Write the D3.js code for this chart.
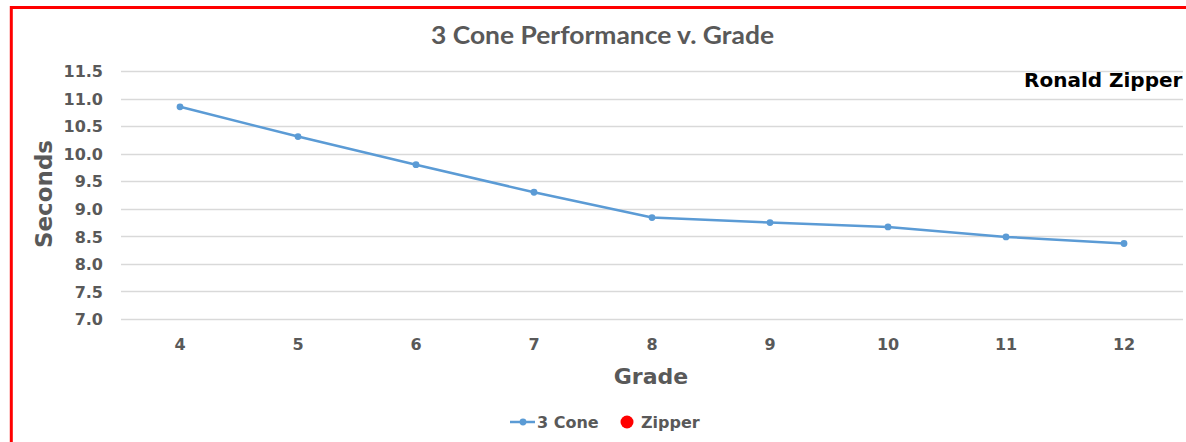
<!DOCTYPE html>
<html>
<head>
<meta charset="utf-8">
<script src="https://cdn.jsdelivr.net/npm/d3@7"></script>
<style>
  html, body { margin: 0; padding: 0; background: #ffffff; overflow: hidden; }
  svg { display: block; }
</style>
</head>
<body>
<svg id="chart" width="1186" height="442"></svg>
<script>
// ---- data ----
const grades = ["4", "5", "6", "7", "8", "9", "10", "11", "12"];
const threeCone = [10.85, 10.31, 9.80, 9.30, 8.84, 8.75, 8.67, 8.49, 8.37];
const zipper = [];   // no plotted values, legend entry only
const yTicks = [7.0, 7.5, 8.0, 8.5, 9.0, 9.5, 10.0, 10.5, 11.0, 11.5];
const titleText = "3 Cone Performance v. Grade";
const xTitle = "Grade";
const yTitle = "Seconds";
const annotation = "Ronald Zipper";
const seriesNames = ["3 Cone", "Zipper"];

// ---- layout ----
const svg = d3.select("#chart");
const plot = { left: 121, right: 1183, top: 71, bottom: 319 };
const gray = "#595959";
const lineColor = "#5b9bd5";
const font = "'DejaVu Sans', sans-serif";

const x = d3.scaleBand().domain(grades).range([plot.left, plot.right]);
const y = d3.scaleLinear().domain([7, 11.5]).range([plot.bottom, plot.top]);
const cx = g => x(g) + x.bandwidth() / 2;

// red frame (extends past the window)
svg.append("rect")
  .attr("x", 11.3).attr("y", 7.5)
  .attr("width", 1400).attr("height", 600)
  .attr("fill", "none").attr("stroke", "#ff0000").attr("stroke-width", 3);

// gridlines
svg.append("g").selectAll("line").data(yTicks).join("line")
  .attr("x1", plot.left).attr("x2", plot.right)
  .attr("y1", d => Math.round(y(d)) + 0.5).attr("y2", d => Math.round(y(d)) + 0.5)
  .attr("stroke", "#d9d9d9").attr("stroke-width", 1.3);

// y axis labels
const yAxis = d3.axisLeft(y).tickValues(yTicks).tickFormat(d3.format(".1f")).tickSize(0).tickPadding(0);
const yg = svg.append("g").attr("transform", `translate(103,0)`).call(yAxis);
yg.select(".domain").remove();
yg.selectAll("text")
  .attr("fill", gray).attr("font-family", font).attr("font-weight", "bold")
  .attr("font-size", 16).attr("x", 0).attr("dy", "0.36em");

// x axis labels
const xAxis = d3.axisBottom(x).tickSize(0).tickPadding(0);
const xg = svg.append("g").attr("transform", `translate(0,338)`).call(xAxis);
xg.select(".domain").remove();
xg.selectAll("text")
  .attr("fill", gray).attr("font-family", font).attr("font-weight", "bold")
  .attr("font-size", 16).attr("y", 0).attr("dy", "0.74em");

// line series
const line = d3.line().x((d, i) => cx(grades[i])).y(d => y(d));
svg.append("path").datum(threeCone)
  .attr("d", line).attr("fill", "none")
  .attr("stroke", lineColor).attr("stroke-width", 2.5).attr("stroke-linejoin", "round");
svg.append("g").selectAll("circle").data(threeCone).join("circle")
  .attr("cx", (d, i) => cx(grades[i])).attr("cy", d => y(d)).attr("r", 3.4)
  .attr("fill", lineColor);

// zipper series (empty)
svg.append("g").selectAll("circle").data(zipper).join("circle")
  .attr("cx", (d, i) => cx(grades[i])).attr("cy", d => y(d)).attr("r", 6)
  .attr("fill", "#ff0000");

// title
svg.append("text").text(titleText)
  .attr("x", 431).attr("y", 44)
  .attr("textLength", 343).attr("lengthAdjust", "spacingAndGlyphs")
  .attr("font-family", "Lato, 'Open Sans', sans-serif").attr("font-weight", "bold")
  .attr("font-size", 24).attr("fill", gray);

// axis titles
svg.append("text").text(xTitle)
  .attr("x", 651).attr("y", 384).attr("text-anchor", "middle")
  .attr("font-family", font).attr("font-weight", "bold")
  .attr("font-size", 22).attr("fill", gray);

svg.append("text").text(yTitle)
  .attr("transform", "translate(52,194) rotate(-90)")
  .attr("text-anchor", "middle")
  .attr("font-family", font).attr("font-weight", "bold")
  .attr("font-size", 23).attr("fill", gray);

// annotation
svg.append("text").text(annotation)
  .attr("x", 1024).attr("y", 87)
  .attr("font-family", font).attr("font-weight", "bold")
  .attr("font-size", 20).attr("fill", "#000000");

// legend
const lg = svg.append("g");
lg.append("line").attr("x1", 510).attr("x2", 535).attr("y1", 422).attr("y2", 422)
  .attr("stroke", lineColor).attr("stroke-width", 2.5);
lg.append("circle").attr("cx", 523).attr("cy", 422).attr("r", 3.4).attr("fill", lineColor);
lg.append("text").text(seriesNames[0]).attr("x", 537).attr("y", 428)
  .attr("font-family", font).attr("font-weight", "bold").attr("font-size", 16).attr("fill", gray);
lg.append("circle").attr("cx", 627).attr("cy", 422).attr("r", 6.5).attr("fill", "#ff0000");
lg.append("text").text(seriesNames[1]).attr("x", 641).attr("y", 428)
  .attr("font-family", font).attr("font-weight", "bold").attr("font-size", 16).attr("fill", gray);
</script>
</body>
</html>
